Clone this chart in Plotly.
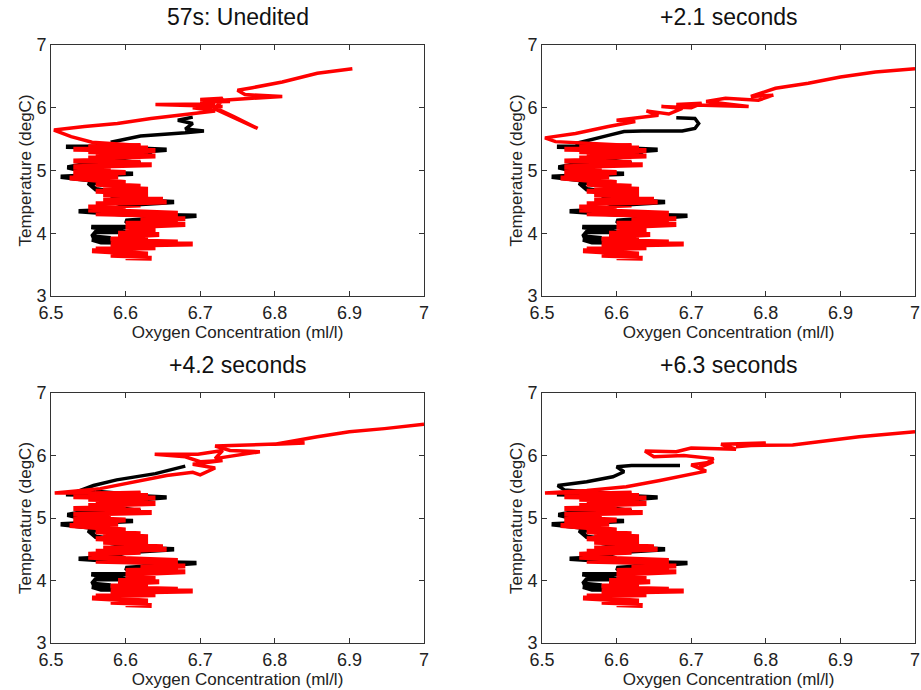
import plotly.graph_objects as go

# ---------------- data ----------------
TITLES = ["57s: Unedited", "+2.1 seconds", "+4.2 seconds", "+6.3 seconds"]
X_TICKS = [6.5, 6.6, 6.7, 6.8, 6.9, 7.0]
X_TICK_LABELS = ["6.5", "6.6", "6.7", "6.8", "6.9", "7"]
Y_TICKS = [3, 4, 5, 6, 7]
Y_TICK_LABELS = ["3", "4", "5", "6", "7"]
X_TITLE = "Oxygen Concentration (ml/l)"
Y_TITLE = "Temperature (degC)"

# lower zig-zag part (common to all four panels)
BLACK_LOWER_X = [6.64, 6.567, 6.555, 6.58, 6.555, 6.56, 6.60, 6.554, 6.61, 6.60, 6.695, 6.60,
                 6.537, 6.58, 6.60, 6.665, 6.62, 6.58, 6.62, 6.56, 6.55, 6.59, 6.55, 6.513,
                 6.55, 6.61, 6.55, 6.522, 6.545, 6.57, 6.62, 6.58, 6.60, 6.635, 6.62, 6.655,
                 6.60, 6.52, 6.60, 6.56]
BLACK_LOWER_Y = [3.85, 3.855, 3.90, 3.92, 3.95, 4.02, 4.02, 4.10, 4.10, 4.20, 4.28, 4.30,
                 4.35, 4.37, 4.45, 4.50, 4.52, 4.60, 4.60, 4.70, 4.80, 4.80, 4.85, 4.90,
                 4.92, 4.95, 4.97, 5.05, 5.10, 5.11, 5.11, 5.18, 5.25, 5.25, 5.30, 5.33,
                 5.36, 5.38, 5.38, 5.42]

RED_LOWER_X = [6.635, 6.60, 6.63, 6.58, 6.63, 6.59, 6.555, 6.61, 6.56, 6.64, 6.58, 6.60,
               6.69, 6.58, 6.67, 6.60, 6.58, 6.63, 6.59, 6.645, 6.59, 6.64, 6.60, 6.64,
               6.60, 6.68, 6.60, 6.67, 6.62, 6.68, 6.63, 6.67, 6.56, 6.67, 6.60, 6.55,
               6.60, 6.55, 6.62, 6.56, 6.655, 6.57, 6.65, 6.60, 6.63, 6.57, 6.63, 6.56,
               6.63, 6.57, 6.62, 6.56, 6.60, 6.56, 6.525, 6.59, 6.53, 6.60, 6.53, 6.58,
               6.53, 6.635, 6.55, 6.62, 6.53, 6.60, 6.55, 6.64, 6.56, 6.63, 6.55, 6.64,
               6.53, 6.63, 6.55, 6.62]
RED_LOWER_Y = [3.60, 3.61, 3.63, 3.65, 3.67, 3.69, 3.72, 3.73, 3.75, 3.77, 3.79, 3.81,
               3.83, 3.85, 3.86, 3.88, 3.91, 3.93, 3.95, 3.98, 4.00, 4.02, 4.05, 4.07,
               4.10, 4.14, 4.16, 4.18, 4.21, 4.23, 4.25, 4.28, 4.31, 4.32, 4.34, 4.37,
               4.39, 4.42, 4.45, 4.47, 4.50, 4.52, 4.54, 4.56, 4.59, 4.61, 4.64, 4.67,
               4.70, 4.73, 4.75, 4.78, 4.81, 4.84, 4.88, 4.90, 4.92, 4.97, 5.00, 5.03,
               5.06, 5.09, 5.11, 5.13, 5.15, 5.17, 5.20, 5.23, 5.25, 5.28, 5.30, 5.32,
               5.34, 5.36, 5.38, 5.40]

# upper parts, per panel
P1_BLACK_X = [6.58, 6.60, 6.62, 6.68, 6.705, 6.68, 6.69, 6.67, 6.69]
P1_BLACK_Y = [5.45, 5.50, 5.55, 5.60, 5.63, 5.66, 5.75, 5.80, 5.85]
P1_RED_X = [6.555, 6.527, 6.504, 6.545, 6.589, 6.634, 6.67, 6.70, 6.72, 6.69, 6.73, 6.64,
            6.72, 6.70, 6.74, 6.70, 6.73, 6.72, 6.745, 6.777, 6.745, 6.72, 6.73, 6.81,
            6.76, 6.75, 6.77, 6.81, 6.857, 6.904]
P1_RED_Y = [5.45, 5.54, 5.645, 5.70, 5.75, 5.83, 5.88, 5.93, 5.95, 6.00, 6.02, 6.05,
            6.06, 6.09, 6.10, 6.13, 6.15, 5.98, 5.85, 5.67, 5.86, 6.00, 6.12, 6.18,
            6.21, 6.28, 6.32, 6.41, 6.55, 6.62]

P2_BLACK_X = [6.56, 6.545, 6.589, 6.61, 6.634, 6.688, 6.705, 6.71, 6.705, 6.68]
P2_BLACK_Y = [5.42, 5.43, 5.56, 5.62, 5.63, 5.63, 5.67, 5.75, 5.83, 5.84]
P2_RED_X = [6.518, 6.504, 6.545, 6.589, 6.625, 6.60, 6.656, 6.64, 6.67, 6.688, 6.66, 6.70,
            6.714, 6.68, 6.777, 6.72, 6.746, 6.79, 6.81, 6.78, 6.813, 6.857, 6.90, 6.947, 7.0]
P2_RED_Y = [5.46, 5.52, 5.59, 5.70, 5.78, 5.80, 5.88, 5.95, 5.90, 5.99, 6.02, 6.00,
            6.07, 6.05, 6.02, 6.10, 6.15, 6.12, 6.20, 6.18, 6.31, 6.39, 6.49, 6.57, 6.62]

P3_BLACK_X = [6.56, 6.535, 6.557, 6.588, 6.64, 6.68]
P3_BLACK_Y = [5.42, 5.42, 5.52, 5.61, 5.71, 5.83]
P3_RED_X = [6.505, 6.566, 6.61, 6.655, 6.69, 6.70, 6.72, 6.69, 6.73, 6.70, 6.68, 6.639,
            6.697, 6.73, 6.72, 6.78, 6.74, 6.72, 6.84, 6.80, 6.857, 6.90, 6.947, 7.0]
P3_RED_Y = [5.40, 5.47, 5.58, 5.68, 5.73, 5.69, 5.80, 5.86, 5.92, 5.90, 5.98, 6.02,
            6.02, 6.08, 5.95, 6.06, 6.08, 6.15, 6.20, 6.18, 6.30, 6.38, 6.43, 6.50]

P4_BLACK_X = [6.56, 6.53, 6.521, 6.56, 6.595, 6.61, 6.60, 6.62, 6.685]
P4_BLACK_Y = [5.42, 5.45, 5.52, 5.58, 5.66, 5.74, 5.82, 5.84, 5.84]
P4_RED_X = [6.504, 6.56, 6.613, 6.658, 6.693, 6.72, 6.70, 6.73, 6.71, 6.73, 6.69, 6.65,
            6.638, 6.68, 6.70, 6.76, 6.74, 6.80, 6.76, 6.78, 6.836, 6.88, 6.925, 7.0]
P4_RED_Y = [5.40, 5.44, 5.50, 5.60, 5.68, 5.75, 5.85, 5.90, 5.80, 5.95, 6.00, 5.98,
            6.07, 6.06, 6.12, 6.10, 6.18, 6.20, 6.14, 6.16, 6.17, 6.24, 6.30, 6.38]

PANELS = [
    (P1_BLACK_X, P1_BLACK_Y, P1_RED_X, P1_RED_Y),
    (P2_BLACK_X, P2_BLACK_Y, P2_RED_X, P2_RED_Y),
    (P3_BLACK_X, P3_BLACK_Y, P3_RED_X, P3_RED_Y),
    (P4_BLACK_X, P4_BLACK_Y, P4_RED_X, P4_RED_Y),
]

# ---------------- layout ----------------
W, H = 921, 690
X_DOMAINS = [(51 / W, 424 / W), (542 / W, 915 / W)]
Y_DOMAINS = [(1 - 296 / H, 1 - 45 / H), (1 - 643 / H, 1 - 393 / H)]
FONT = "Liberation Sans, Arial, sans-serif"
RED = "#ff0000"

fig = go.Figure()
layout = dict(
    width=W, height=H, margin=dict(l=0, r=0, t=0, b=0),
    paper_bgcolor="white", plot_bgcolor="white", showlegend=False,
    font=dict(family=FONT, color="#222"),
)
annotations = []
for i, (bx, by, rx, ry) in enumerate(PANELS):
    row, col = divmod(i, 2)
    n = "" if i == 0 else str(i + 1)
    xa, ya = "x" + n, "y" + n
    # black cast: dense lower part, thinner upper part
    fig.add_trace(go.Scatter(x=BLACK_LOWER_X, y=BLACK_LOWER_Y, mode="lines",
                             line=dict(color="black", width=4.5), xaxis=xa, yaxis=ya,
                             hoverinfo="skip"))
    fig.add_trace(go.Scatter(x=bx, y=by, mode="lines",
                             line=dict(color="black", width=3.5), xaxis=xa, yaxis=ya,
                             hoverinfo="skip"))
    # red cast
    fig.add_trace(go.Scatter(x=RED_LOWER_X, y=RED_LOWER_Y, mode="lines",
                             line=dict(color=RED, width=5), xaxis=xa, yaxis=ya,
                             hoverinfo="skip"))
    fig.add_trace(go.Scatter(x=[RED_LOWER_X[-1]] + rx, y=[RED_LOWER_Y[-1]] + ry, mode="lines",
                             line=dict(color=RED, width=3.5), xaxis=xa, yaxis=ya,
                             hoverinfo="skip"))
    axis_common = dict(showgrid=False, zeroline=False, showline=True, linecolor="#333",
                       linewidth=1, mirror="allticks", ticks="inside", ticklen=5,
                       tickcolor="#333", automargin=False,
                       tickfont=dict(family=FONT, size=18, color="#222"))
    layout["xaxis" + n] = dict(axis_common, domain=X_DOMAINS[col], range=[6.5, 7.0],
                               tickvals=X_TICKS, ticktext=X_TICK_LABELS, anchor=ya,
                               title=dict(text=X_TITLE, font=dict(size=17), standoff=3))
    layout["yaxis" + n] = dict(axis_common, domain=Y_DOMAINS[row], range=[3, 7],
                               tickvals=Y_TICKS, ticktext=Y_TICK_LABELS, anchor=xa,
                               title=dict(text=Y_TITLE, font=dict(size=17), standoff=0))
    annotations.append(dict(text=TITLES[i], xref="paper", yref="paper",
                            x=sum(X_DOMAINS[col]) / 2, y=Y_DOMAINS[row][1] + 28 / H,
                            xanchor="center", yanchor="middle", showarrow=False,
                            font=dict(family=FONT, size=23, color="#111")))
layout["annotations"] = annotations
fig.update_layout(**layout)
fig.write_html("out.html")
